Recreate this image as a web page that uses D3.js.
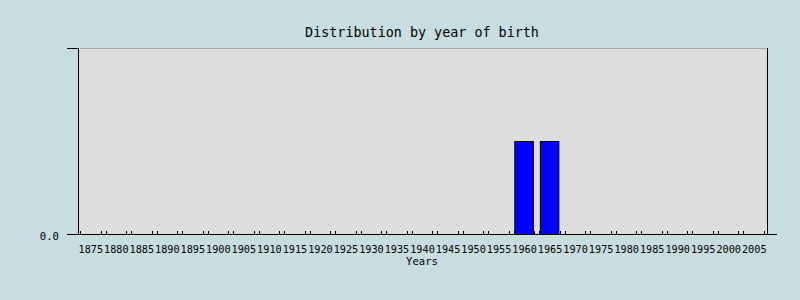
<!DOCTYPE html>
<html>
<head>
<meta charset="utf-8">
<script src="https://cdn.jsdelivr.net/npm/d3@7"></script>
<style>
body { margin: 0; background: #c8dde0; }
svg { display: block; }
text { font-family: "DejaVu Sans Mono", monospace; fill: #000; }
</style>
</head>
<body>
<div id="chart"></div>
<script>
// data
let years = ["1875","1880","1885","1890","1895","1900","1905","1910","1915","1920",
             "1925","1930","1935","1940","1945","1950","1955","1960","1965","1970",
             "1975","1980","1985","1990","1995","2000","2005"];
let counts = [0,0,0,0,0,0,0,0,0,0,0,0,0,0,0,0,0,1,1,0,0,0,0,0,0,0,0];
let yTicks = [0];

let width = 800, height = 300;
let plotL = 78, plotR = 767, plotT = 48, plotB = 234;

let svg = d3.select("#chart").append("svg")
    .attr("width", width)
    .attr("height", height);

svg.append("rect")
    .attr("width", width).attr("height", height)
    .attr("fill", "#c8dde0");

let x = d3.scaleBand().domain(years).range([plotL, plotR]).padding(0);
let y = d3.scaleLinear().domain([0, 2]).range([plotB, plotT]);

// plot area
svg.append("rect")
    .attr("x", plotL).attr("y", plotT)
    .attr("width", plotR - plotL).attr("height", plotB - plotT)
    .attr("fill", "#dddddd");
svg.append("line")
    .attr("x1", plotL).attr("x2", plotR).attr("y1", plotT + 0.5).attr("y2", plotT + 0.5)
    .attr("stroke", "#a8a8a8");
svg.append("line")
    .attr("x1", plotR + 0.5).attr("x2", plotR + 0.5).attr("y1", plotT).attr("y2", plotB)
    .attr("stroke", "#000");

// title
svg.append("text")
    .attr("x", 422).attr("y", 32)
    .attr("text-anchor", "middle").attr("dominant-baseline", "central")
    .style("font-size", "13.4px")
    .text("Distribution by year of birth");

// bars
svg.selectAll("rect.bar")
    .data(years.map((d, i) => ({year: d, v: counts[i]})).filter(d => d.v > 0))
    .enter().append("rect")
    .classed("bar", true)
    .attr("x", d => x(d.year) + 3)
    .attr("y", d => y(d.v) + 0.5)
    .attr("width", x.bandwidth() - 7)
    .attr("height", d => y(0) - y(d.v))
    .attr("fill", "#0000ff")
    .attr("stroke", "#000")
    .attr("stroke-width", 1);

// x axis ticks (pairs near the band edges)
let edges = years.map(d => x(d)).concat([plotR]);
edges.forEach(function(e){
    [-3, 2].forEach(function(o){
        let px = Math.round(e + o) + 0.5;
        if (px < plotL + 2 || px > plotR - 2) return;
        svg.append("line")
            .attr("x1", px).attr("x2", px)
            .attr("y1", plotB - 3).attr("y2", plotB)
            .attr("stroke", "#000");
    });
});

// x labels
let xAxis = svg.append("g")
    .attr("transform", `translate(0,${plotB})`)
    .call(d3.axisBottom(x).tickSize(0).tickPadding(0));
xAxis.select(".domain").remove();
xAxis.selectAll("text")
    .style("font-size", "10.2px")
    .style("font-family", "DejaVu Sans Mono, monospace")
    .attr("y", 15)
    .attr("dy", null)
    .attr("dominant-baseline", "central");

svg.append("text")
    .attr("x", 422).attr("y", 261)
    .attr("text-anchor", "middle").attr("dominant-baseline", "central")
    .style("font-size", "10.6px")
    .text("Years");

// axis lines
svg.append("line")
    .attr("x1", 67).attr("x2", 777).attr("y1", plotB + 0.5).attr("y2", plotB + 0.5)
    .attr("stroke", "#000");
svg.append("line")
    .attr("x1", plotL + 0.5).attr("x2", plotL + 0.5).attr("y1", plotT).attr("y2", plotB)
    .attr("stroke", "#000");
svg.append("line")
    .attr("x1", 67).attr("x2", plotL).attr("y1", plotT + 0.5).attr("y2", plotT + 0.5)
    .attr("stroke", "#000");

// y labels
let yAxis = svg.append("g")
    .attr("transform", `translate(${plotL - 11},2)`)
    .call(d3.axisLeft(y).tickValues(yTicks).tickFormat(d3.format(".1f")).tickSize(0).tickPadding(8));
yAxis.select(".domain").remove();
yAxis.selectAll("text")
    .style("font-size", "10.6px")
    .style("font-family", "DejaVu Sans Mono, monospace");
</script>
</body>
</html>
